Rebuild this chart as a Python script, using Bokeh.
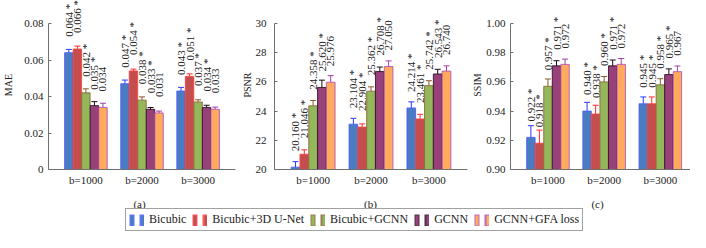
import numpy as np
from bokeh.plotting import figure
from bokeh.models import (ColumnDataSource, Range1d, FixedTicker, Whisker, TeeHead,
                          Legend, LegendItem, Label)
from bokeh.layouts import row, column
from bokeh.embed import file_html
from bokeh.resources import INLINE
from bokeh.core.properties import value

# ---------------- data ----------------
groups = ["b=1000", "b=2000", "b=3000"]
methods = ["Bicubic", "Bicubic+3D U-Net", "Bicubic+GCNN", "GCNN", "GCNN+GFA loss"]
significant = [True, True, True, True, False]
subcaptions = ["(a)", "(b)", "(c)"]

# rows: methods, columns: groups
mae_mean = [[0.064, 0.047, 0.043],
            [0.066, 0.054, 0.051],
            [0.042, 0.038, 0.037],
            [0.035, 0.033, 0.034],
            [0.034, 0.031, 0.033]]
mae_err = [[0.0018, 0.0020, 0.0020],
           [0.0016, 0.0010, 0.0014],
           [0.0022, 0.0018, 0.0012],
           [0.0022, 0.0010, 0.0012],
           [0.0023, 0.0010, 0.0012]]

psnr_mean = [[20.160, 23.104, 24.214],
             [21.046, 22.904, 23.461],
             [24.358, 25.362, 25.742],
             [25.620, 26.708, 26.543],
             [25.976, 27.050, 26.740]]
psnr_err = [[0.38, 0.40, 0.42],
            [0.30, 0.22, 0.32],
            [0.37, 0.30, 0.34],
            [0.50, 0.31, 0.32],
            [0.45, 0.39, 0.36]]

ssim_mean = [[0.922, 0.940, 0.945],
             [0.918, 0.938, 0.945],
             [0.957, 0.960, 0.958],
             [0.971, 0.971, 0.965],
             [0.972, 0.972, 0.967]]
ssim_err = [[0.0080, 0.0060, 0.0047],
            [0.0090, 0.0060, 0.0047],
            [0.0050, 0.0037, 0.0042],
            [0.0035, 0.0040, 0.0039],
            [0.0036, 0.0040, 0.0039]]

mae_ticks = [0, 0.02, 0.04, 0.06, 0.08]
mae_tick_labels = ["0", "0.02", "0.04", "0.06", "0.08"]
psnr_ticks = [20, 22, 24, 26, 28, 30]
psnr_tick_labels = ["20", "22", "24", "26", "28", "30"]
ssim_ticks = [0.90, 0.92, 0.94, 0.96, 0.98, 1.00]
ssim_tick_labels = ["0.90", "0.92", "0.94", "0.96", "0.98", "1.00"]

# ---------------- style ----------------
FONT = "Liberation Serif"
fill_colors = ["#4a7cc1", "#c44e4e", "#93b75a", "#974079", "#ffaa5d"]
line_colors = ["#4a5cff", "#ff4040", "#8a6534", "#2a0f22", "#b050b8"]
err_colors = ["#2a3cff", "#ff2a2a", "#8a5a2a", "#1a0a14", "#a040a8"]
AXIS_COLOR = "#707070"
TEXT_COLOR = "#222222"

ROW_H = 197
FRAME_H = 169
AXIS_H = 146          # pixels from bottom of frame to the top tick
X_START = 1 - 0.6667
BAR_STEP = 0.152
BAR_W = 0.150
positions = [1, 2, 3]


def panel(means, errs, ticks, tick_labels, ylabel, width, bl, br, x_end,
          tick_standoff, label_standoff, label_align):
    y0 = ticks[0]
    y_end = y0 + (ticks[-1] - y0) * FRAME_H / AXIS_H
    p = figure(width=width, height=ROW_H, x_range=Range1d(X_START, x_end),
               y_range=Range1d(y0, y_end), toolbar_location=None,
               output_backend="svg", min_border_left=bl, min_border_right=br,
               min_border_top=0, min_border_bottom=ROW_H - FRAME_H)
    p.grid.visible = False
    p.outline_line_color = None
    p.background_fill_color = "white"
    p.border_fill_color = "white"

    for i, m in enumerate(methods):
        xs = [g + (i - 2) * BAR_STEP for g in positions]
        tops = means[i]
        e = errs[i]
        labels = [f"{v:.3f} *" if significant[i] else f"{v:.3f}" for v in tops]
        src = ColumnDataSource(dict(
            x=xs, top=tops,
            upper=[t + d for t, d in zip(tops, e)],
            lower=[t - d for t, d in zip(tops, e)],
            label=labels))
        p.vbar(x="x", top="top", bottom=y0, width=BAR_W, source=src,
               fill_color=fill_colors[i], line_color=line_colors[i],
               line_width=1, line_alpha=0.85)
        w = Whisker(source=src, base="x", upper="upper", lower="lower",
                    dimension="height", line_color=err_colors[i], line_width=1,
                    upper_head=TeeHead(size=6, line_color=err_colors[i], line_width=1),
                    lower_head=TeeHead(size=6, line_color=err_colors[i], line_width=1))
        p.add_layout(w)
        p.text(x="x", y="top", text="label", source=src, angle=np.pi / 2,
               text_align="left", text_baseline="middle", y_offset=-16,
               text_font=value(FONT), text_font_size="11px",
               text_color=TEXT_COLOR)

    ya = p.yaxis[0]
    ya.ticker = FixedTicker(ticks=ticks)
    ya.major_label_overrides = dict(zip(ticks, tick_labels))
    ya.bounds = (ticks[0], ticks[-1])
    ya.major_tick_in = 3
    ya.major_tick_out = 0
    ya.minor_tick_line_color = None
    ya.axis_line_color = AXIS_COLOR
    ya.major_tick_line_color = AXIS_COLOR
    ya.major_label_standoff = tick_standoff
    ya.major_label_text_font = FONT
    ya.major_label_text_font_size = "11px"
    ya.major_label_text_color = TEXT_COLOR
    ya.axis_label = ylabel
    ya.axis_label_text_font = FONT
    ya.axis_label_text_font_size = "10px"
    ya.axis_label_text_font_style = "normal"
    ya.axis_label_text_color = TEXT_COLOR
    ya.axis_label_standoff = label_standoff
    ya.axis_label_text_align = label_align

    xa = p.xaxis[0]
    xa.ticker = FixedTicker(ticks=positions)
    xa.major_label_overrides = dict(zip(positions, groups))
    xa.major_tick_line_color = None
    xa.major_tick_in = 0
    xa.major_tick_out = 0
    xa.minor_tick_line_color = None
    xa.axis_line_color = AXIS_COLOR
    xa.major_label_standoff = 4
    xa.major_label_text_font = FONT
    xa.major_label_text_font_size = "11px"
    xa.major_label_text_color = TEXT_COLOR
    return p


p1 = panel(mae_mean, mae_err, mae_ticks, mae_tick_labels, "MAE",
           237, 43, 2, 3.6667, 5, 7, "center")
p2 = panel(psnr_mean, psnr_err, psnr_ticks, psnr_tick_labels, "PSNR",
           232, 37, 2, 3.6667, 8, 0, "right")
p3 = panel(ssim_mean, ssim_err, ssim_ticks, ssim_tick_labels, "SSIM",
           221, 36, 0, X_START + 185 / 57.75, 5, 0, "right")

# ---------------- bottom strip: sub-captions + legend ----------------
LEG_H = 240 - 8 - ROW_H
pl = figure(width=690, height=LEG_H, x_range=Range1d(0, 1), y_range=Range1d(0, 1),
            toolbar_location=None, output_backend="svg", min_border=0)
pl.axis.visible = False
pl.grid.visible = False
pl.outline_line_color = None

# centres of the three panel frames, in strip pixels
for sub, cx in zip(subcaptions, [139, 370, 597]):
    pl.add_layout(Label(x=cx, y=LEG_H - 6, x_units="screen", y_units="screen",
                        text=sub, text_align="center", text_baseline="middle",
                        text_font=FONT, text_font_size="11px",
                        text_color=TEXT_COLOR))

# legend key: two small bars per entry (outline stroke + fill stroke, dashed)
items = []
for i, m in enumerate(methods):
    r_out = pl.segment(x0=[5], y0=[0.5], x1=[6], y1=[0.5],
                       line_color=line_colors[i], line_alpha=0.85,
                       line_width=12, line_dash="5 5")
    r_in = pl.segment(x0=[5], y0=[0.5], x1=[6], y1=[0.5],
                      line_color=fill_colors[i], line_width=10,
                      line_dash="0 1 3 7")
    items.append(LegendItem(label=m, renderers=[r_out, r_in]))
legend = Legend(items=items, orientation="horizontal", location=(125, 1),
                glyph_width=15, glyph_height=12, label_standoff=5, spacing=6,
                padding=3, margin=0, label_height=12, label_width=0,
                label_text_font=FONT, label_text_font_size="12px",
                label_text_color=TEXT_COLOR, border_line_color="#444444",
                border_line_width=1, background_fill_alpha=1.0)
pl.add_layout(legend, "center")

layout = column(row(p1, p2, p3), pl)
open("out.html", "w").write(file_html(layout, INLINE))
